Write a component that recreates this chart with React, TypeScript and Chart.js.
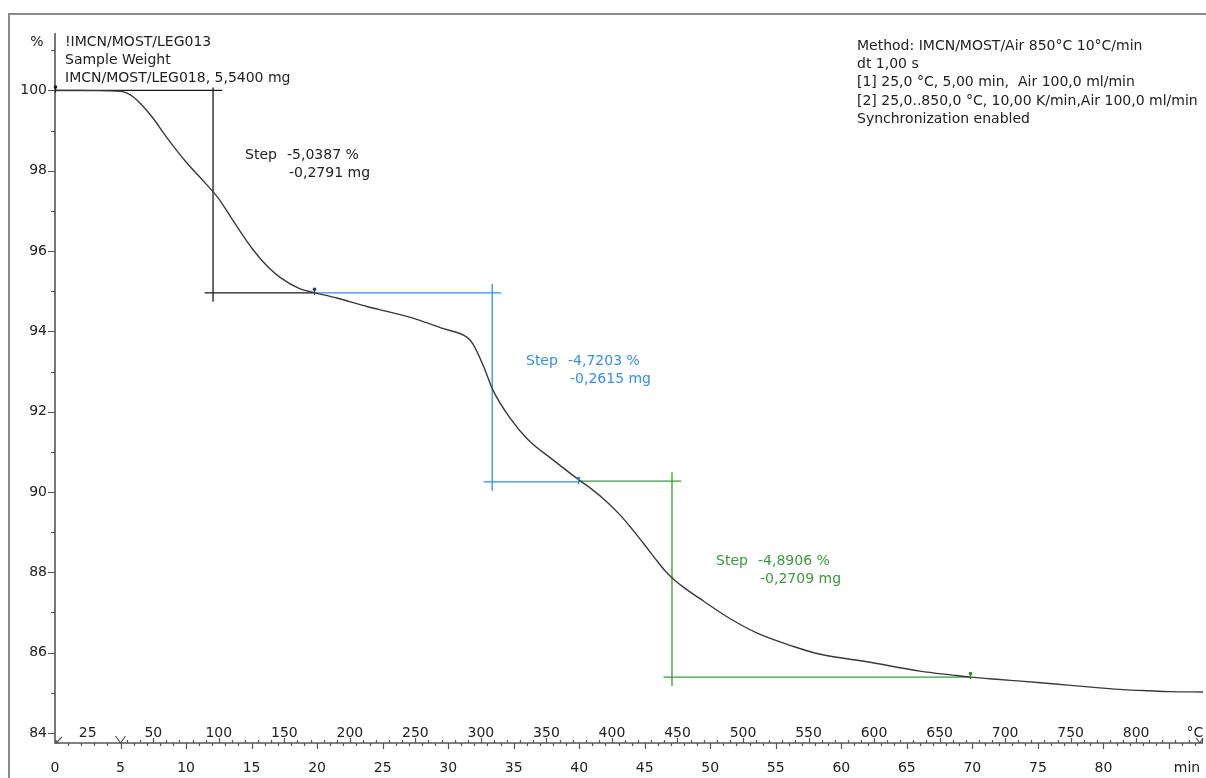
import React, { useEffect, useRef } from "react";
import { Chart, registerables } from "chart.js";

Chart.register(...registerables);

// ---- Data ----
const timeMin = [
  0, 2, 4, 5, 5.5, 6.0, 6.5, 7.0, 7.5, 8.55, 10.05, 11.5, 12.5, 13.7, 15.1,
  16.2, 17.2, 18.7, 19.7, 21.5, 23.8, 25.8, 27.6, 29.5, 31.45, 31.9, 32.7,
  33.4, 34.7, 36.1, 38.0, 39.9, 41.0, 42.1, 43.2, 44.1, 45.0, 45.9, 46.6,
  47.2, 48.0, 49.5, 51.5, 53.5, 56.3, 58.4, 62.2, 66.0, 68.5, 69.85, 72.1,
  73.7, 75.2, 77.3, 79.5, 81.5, 83.5, 85.1, 87.6,
];
const weightPct = [
  100.0, 100.0, 99.99, 99.98, 99.93, 99.83, 99.68, 99.5, 99.3, 98.82, 98.2,
  97.68, 97.3, 96.7, 96.04, 95.62, 95.34, 95.06, 94.97, 94.83, 94.62, 94.46,
  94.3, 94.08, 93.85, 93.68, 93.13, 92.55, 91.85, 91.3, 90.8, 90.32, 90.06,
  89.76, 89.4, 89.05, 88.68, 88.3, 88.02, 87.83, 87.62, 87.28, 86.85, 86.5,
  86.16, 85.96, 85.76, 85.54, 85.44, 85.39, 85.33, 85.29, 85.25, 85.19, 85.13,
  85.08, 85.05, 85.03, 85.02,
];

const yTickValues = [84, 86, 88, 90, 92, 94, 96, 98, 100];
const yMinorValues = [85, 87, 89, 91, 93, 95, 97, 99, 101];
const minTickLabels = [0, 5, 10, 15, 20, 25, 30, 35, 40, 45, 50, 55, 60, 65, 70, 75, 80];
const tempTickLabels = [25, 50, 100, 150, 200, 250, 300, 350, 400, 450, 500, 550, 600, 650, 700, 750, 800];

// temperature program
const isoTemp = 25;
const isoEnd = 5;
const heatingRate = 10;
const endTemp = 850;

// steps
const stepLeft = [0, 19.8, 39.9];
const stepRight = [19.8, 39.9, 69.85];
const stepMid = [12.06, 33.36, 47.08];
const stepTop = [100.0, 94.96, 90.27];
const stepBottom = [94.96, 90.25, 85.39];
const stepPct = ["-5,0387 %", "-4,7203 %", "-4,8906 %"];
const stepMg = ["-0,2791 mg", "-0,2615 mg", "-0,2709 mg"];
const stepLabelTime = [14.5, 35.94, 50.44];
const stepLabelValue = [98.39, 93.26, 88.28];

const headerLeft = ["!IMCN/MOST/LEG013", "Sample Weight", "IMCN/MOST/LEG018, 5,5400 mg"];
const headerRight = [
  "Method: IMCN/MOST/Air 850°C 10°C/min",
  "dt 1,00 s",
  "[1] 25,0 °C, 5,00 min,  Air 100,0 ml/min",
  "[2] 25,0..850,0 °C, 10,00 K/min,Air 100,0 ml/min",
  "Synchronization enabled",
];

// ---- styles ----
const FONT = '14px "DejaVu Sans", Verdana, sans-serif';
const TEXT = "#222222";
const AXIS = "#555555";
const stepColors = ["#1a1a1a", "#2f8ff0", "#3a9a3a"];
const stepTextColors = ["#222222", "#2f8ff0", "#3a9a3a"];
const markerColors = ["#1a1a1a", "#1d3d7a", "#2a7fd0", "#2e8b2e"];

const timeForTemp = (T: number) =>
  T <= isoTemp ? isoEnd / 2 : isoEnd + (T - isoTemp) / heatingRate;

function stepSegments(i: number) {
  const hExtR = 0.7;
  const hExtL = 0.65;
  const vExt = 0.22;
  const topExt = i === 0 ? 0.07 : vExt;
  return [
    { x: stepLeft[i], y: stepTop[i] },
    { x: stepMid[i] + hExtR, y: stepTop[i] },
    { x: stepMid[i] + hExtR, y: null },
    { x: stepMid[i], y: stepTop[i] + topExt },
    { x: stepMid[i], y: stepBottom[i] - vExt },
    { x: stepMid[i], y: null },
    { x: stepMid[i] - hExtL, y: stepBottom[i] },
    { x: stepRight[i], y: stepBottom[i] },
  ];
}

const markerPoints = [
  { x: stepLeft[0], y: stepTop[0] },
  { x: stepRight[0], y: stepBottom[0] },
  { x: stepRight[1], y: stepBottom[1] },
  { x: stepRight[2], y: stepBottom[2] },
];

const decorPlugin = {
  id: "decor",
  beforeDatasetsDraw(chart: any) {
    const ctx = chart.ctx as CanvasRenderingContext2D;
    const { left, right, top, bottom } = chart.chartArea;
    const xs = chart.scales.x;
    const ys = chart.scales.y;
    ctx.save();
    // outer frame
    ctx.strokeStyle = "#8a8a8a";
    ctx.lineWidth = 2;
    ctx.beginPath();
    ctx.moveTo(9, 778);
    ctx.lineTo(9, 14);
    ctx.lineTo(1206, 14);
    ctx.stroke();

    // axes lines
    ctx.strokeStyle = AXIS;
    ctx.lineWidth = 1.6;
    ctx.beginPath();
    ctx.moveTo(left, top);
    ctx.lineTo(left, bottom);
    ctx.lineTo(right, bottom);
    ctx.stroke();

    ctx.lineWidth = 1.2;
    ctx.beginPath();
    yTickValues.forEach((v) => {
      const py = Math.round(ys.getPixelForValue(v)) + 0.5;
      ctx.moveTo(left - 7, py);
      ctx.lineTo(left, py);
    });
    yMinorValues.forEach((v) => {
      const py = Math.round(ys.getPixelForValue(v)) + 0.5;
      ctx.moveTo(left - 4, py);
      ctx.lineTo(left, py);
    });
    for (let t = 1; t <= 87; t++) {
      const px = Math.round(xs.getPixelForValue(t)) + 0.5;
      const len = t % 5 === 0 ? 6 : 3;
      ctx.moveTo(px, bottom);
      ctx.lineTo(px, bottom + len);
    }
    for (let T = isoTemp + 5; T <= endTemp; T += 10) {
      const px = Math.round(xs.getPixelForValue(timeForTemp(T))) + 0.5;
      const len = T % 50 === 0 ? 5 : 3;
      ctx.moveTo(px, bottom);
      ctx.lineTo(px, bottom - len);
    }
    ctx.stroke();

    // segment markers
    ctx.lineWidth = 1.2;
    ctx.beginPath();
    const x0 = xs.getPixelForValue(0);
    ctx.moveTo(x0 + 7, bottom - 6);
    ctx.lineTo(x0 + 1, bottom);
    ctx.moveTo(x0 + 1, bottom - 3);
    ctx.lineTo(x0 + 1, bottom);
    ctx.lineTo(x0 + 4, bottom);
    const x5 = xs.getPixelForValue(isoEnd);
    ctx.moveTo(x5 - 5, bottom - 7);
    ctx.lineTo(x5, bottom);
    ctx.lineTo(x5 + 5, bottom - 7);
    const xe = right - 3;
    ctx.moveTo(xe - 4, bottom - 5);
    ctx.lineTo(xe, bottom);
    ctx.lineTo(xe + 3, bottom - 5);
    ctx.stroke();

    // labels
    ctx.font = FONT;
    ctx.fillStyle = TEXT;
    ctx.textBaseline = "middle";
    ctx.textAlign = "right";
    yTickValues.forEach((v) => {
      ctx.fillText(String(v), left - 8, ys.getPixelForValue(v));
    });
    ctx.textAlign = "center";
    ctx.fillText("%", 37, 42);
    minTickLabels.forEach((m) => {
      ctx.fillText(String(m), xs.getPixelForValue(m), bottom + 25);
    });
    ctx.fillText("min", 1187, bottom + 25);
    tempTickLabels.forEach((T) => {
      ctx.fillText(String(T), xs.getPixelForValue(timeForTemp(T)), bottom - 10);
    });
    ctx.fillText("°C", 1195, bottom - 10);

    // headers
    ctx.textAlign = "left";
    headerLeft.forEach((s, i) => ctx.fillText(s, 65, 42 + i * 18));
    headerRight.forEach((s, i) => ctx.fillText(s, 857, 46 + i * 18.3));
    ctx.restore();
  },
  afterDatasetsDraw(chart: any) {
    const ctx = chart.ctx as CanvasRenderingContext2D;
    const xs = chart.scales.x;
    const ys = chart.scales.y;
    ctx.save();
    ctx.font = FONT;
    ctx.textBaseline = "middle";
    ctx.textAlign = "left";
    stepPct.forEach((p, i) => {
      const px = xs.getPixelForValue(stepLabelTime[i]);
      const py = ys.getPixelForValue(stepLabelValue[i]);
      ctx.fillStyle = stepTextColors[i];
      ctx.fillText("Step", px, py);
      ctx.fillText(p, px + 42, py);
      ctx.fillText(stepMg[i], px + 44, py + 18);
    });
    markerPoints.forEach((m, i) => {
      const px = Math.round(xs.getPixelForValue(m.x)) + 0.5;
      const py = ys.getPixelForValue(m.y);
      ctx.strokeStyle = markerColors[i];
      ctx.fillStyle = markerColors[i];
      ctx.lineWidth = 1.2;
      ctx.beginPath();
      ctx.moveTo(px, py - 3);
      ctx.lineTo(px, py + 2);
      ctx.stroke();
      ctx.beginPath();
      ctx.arc(px, py - 3.5, 1.8, 0, Math.PI * 2);
      ctx.fill();
    });
    ctx.restore();
  },
};

export default function App() {
  const ref = useRef<HTMLCanvasElement | null>(null);
  useEffect(() => {
    if (!ref.current) return;
    const datasets: any[] = [
      {
        label: "weight",
        data: timeMin.map((t, i) => ({ x: t, y: weightPct[i] })),
        borderColor: "#3a3a3a",
        borderWidth: 1.4,
        pointRadius: 0,
        cubicInterpolationMode: "monotone",
        fill: false,
      },
    ];
    [0, 1, 2].forEach((i) => {
      datasets.push({
        label: "step" + i,
        data: stepSegments(i),
        borderColor: stepColors[i],
        borderWidth: 1.3,
        pointRadius: 0,
        spanGaps: false,
        tension: 0,
        fill: false,
      });
    });
    const chart = new Chart(ref.current, {
      type: "line",
      data: { datasets },
      plugins: [decorPlugin],
      options: {
        animation: false,
        responsive: false,
        devicePixelRatio: 1,
        layout: { padding: { left: 55, right: 3, top: 33, bottom: 35 } },
        plugins: { legend: { display: false }, tooltip: { enabled: false } },
        events: [],
        scales: {
          x: { type: "linear", min: 0, max: 87.6, display: false },
          y: { type: "linear", min: 83.75, max: 101.43, display: false },
        },
        elements: { line: { borderCapStyle: "butt" } },
      } as any,
    });
    return () => chart.destroy();
  }, []);
  return (
    <div style={{ position: "fixed", left: 0, top: 0, width: 1206, height: 778, background: "#fff" }}>
      <canvas ref={ref} width={1206} height={778} style={{ display: "block" }} />
    </div>
  );
}
